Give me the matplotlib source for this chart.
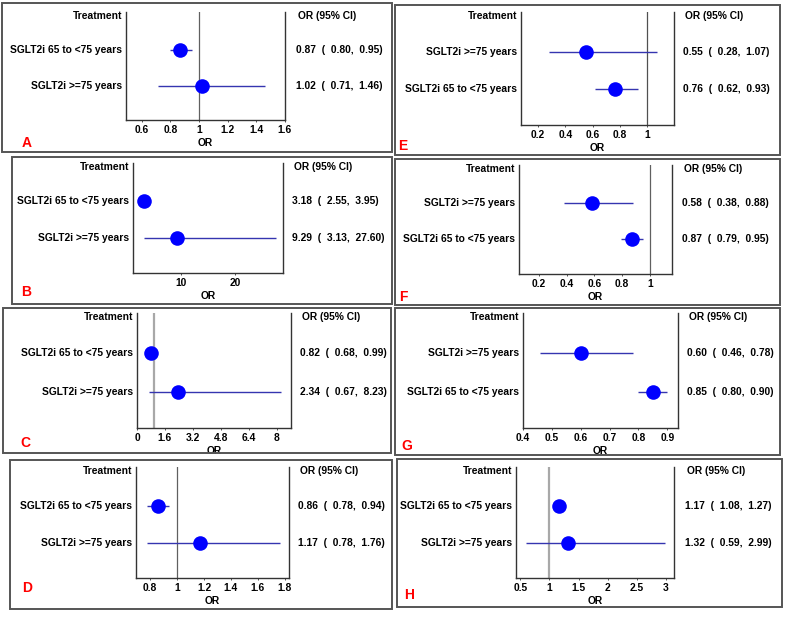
import matplotlib.pyplot as plt
from matplotlib.patches import Rectangle
import matplotlib.transforms as mtransforms

plt.rcParams['font.family'] = ['Liberation Sans', 'DejaVu Sans']

W, H = 788, 617

# data per panel: row labels (top to bottom), OR, lower, upper
ROW_65 = "SGLT2i 65 to <75 years"
ROW_75 = "SGLT2i >=75 years"

labels_A = [ROW_65, ROW_75]
or_A = [0.87, 1.02]
lo_A = [0.80, 0.71]
hi_A = [0.95, 1.46]
ticks_A = [0.6, 0.8, 1, 1.2, 1.4, 1.6]

labels_B = [ROW_65, ROW_75]
or_B = [3.18, 9.29]
lo_B = [2.55, 3.13]
hi_B = [3.95, 27.60]
ticks_B = [10, 20]

labels_C = [ROW_65, ROW_75]
or_C = [0.82, 2.34]
lo_C = [0.68, 0.67]
hi_C = [0.99, 8.23]
ticks_C = [0, 1.6, 3.2, 4.8, 6.4, 8]

labels_D = [ROW_65, ROW_75]
or_D = [0.86, 1.17]
lo_D = [0.78, 0.78]
hi_D = [0.94, 1.76]
ticks_D = [0.8, 1, 1.2, 1.4, 1.6, 1.8]

labels_E = [ROW_75, ROW_65]
or_E = [0.55, 0.76]
lo_E = [0.28, 0.62]
hi_E = [1.07, 0.93]
ticks_E = [0.2, 0.4, 0.6, 0.8, 1]

labels_F = [ROW_75, ROW_65]
or_F = [0.58, 0.87]
lo_F = [0.38, 0.79]
hi_F = [0.88, 0.95]
ticks_F = [0.2, 0.4, 0.6, 0.8, 1]

labels_G = [ROW_75, ROW_65]
or_G = [0.60, 0.85]
lo_G = [0.46, 0.80]
hi_G = [0.78, 0.90]
ticks_G = [0.4, 0.5, 0.6, 0.7, 0.8, 0.9]

labels_H = [ROW_65, ROW_75]
or_H = [1.17, 1.32]
lo_H = [1.08, 0.59]
hi_H = [1.27, 2.99]
ticks_H = [0.5, 1, 1.5, 2, 2.5, 3]

# layout in pixels: box (x0, y0, x1, y1), axes (left, right, top, bottom), xlim,
# x of the right-hand text column, letter position, reference line colour
panels = [
    dict(name="A", labels=labels_A, est=or_A, lo=lo_A, hi=hi_A, ticks=ticks_A,
         box=(2, 3, 392, 152), ax=(126, 285, 12, 120), xlim=(0.49, 1.6),
         txt=296, letter=(22, 143), ref='#606060', rlw=0.9),
    dict(name="B", labels=labels_B, est=or_B, lo=lo_B, hi=hi_B, ticks=ticks_B,
         box=(12, 157, 392, 304), ax=(133, 283, 163, 273), xlim=(1.17, 28.8),
         txt=292, letter=(21, 292), ref=None, rlw=0.9),
    dict(name="C", labels=labels_C, est=or_C, lo=lo_C, hi=hi_C, ticks=ticks_C,
         box=(3, 308, 391, 453), ax=(137, 291, 313, 428), xlim=(0, 8.82),
         txt=300, letter=(20, 443), ref='#a8a8a8', rlw=1.6),
    dict(name="D", labels=labels_D, est=or_D, lo=lo_D, hi=hi_D, ticks=ticks_D,
         box=(10, 460, 392, 609), ax=(136, 289, 467, 578), xlim=(0.696, 1.83),
         txt=298, letter=(22, 588), ref='#606060', rlw=0.9),
    dict(name="E", labels=labels_E, est=or_E, lo=lo_E, hi=hi_E, ticks=ticks_E,
         box=(395, 5, 780, 155), ax=(521, 674, 12, 125), xlim=(0.076, 1.195),
         txt=683, letter=(398, 146), ref='#505050', rlw=0.9),
    dict(name="F", labels=labels_F, est=or_F, lo=lo_F, hi=hi_F, ticks=ticks_F,
         box=(395, 159, 780, 305), ax=(519, 672, 165, 274), xlim=(0.055, 1.16),
         txt=682, letter=(399, 297), ref='#606060', rlw=0.9),
    dict(name="G", labels=labels_G, est=or_G, lo=lo_G, hi=hi_G, ticks=ticks_G,
         box=(395, 308, 780, 455), ax=(523, 678, 313, 428), xlim=(0.4, 0.937),
         txt=687, letter=(401, 446), ref=None, rlw=0.9),
    dict(name="H", labels=labels_H, est=or_H, lo=lo_H, hi=hi_H, ticks=ticks_H,
         box=(397, 459, 782, 607), ax=(516, 674, 467, 578), xlim=(0.426, 3.137),
         txt=685, letter=(404, 595), ref='#a8a8a8', rlw=1.6),
]

FS = 7.4

fig = plt.figure(figsize=(W / 100, H / 100), dpi=100)
fig.patch.set_facecolor('white')


def fx(px):
    return px / W


def fy(py):
    return 1 - py / H


for p in panels:
    x0, y0, x1, y1 = p["box"]
    fig.patches.append(Rectangle((fx(x0), fy(y1)), fx(x1 - x0), (y1 - y0) / H,
                                 transform=fig.transFigure, fill=False,
                                 edgecolor='#555555', linewidth=1.4))

    l, r, t, b = p["ax"]
    ax = fig.add_axes([fx(l), fy(b), fx(r - l), (b - t) / H])
    ax.set_xlim(*p["xlim"])
    ax.set_ylim(2.95, -0.05)
    ax.spines['top'].set_visible(False)
    for s in ['left', 'right', 'bottom']:
        ax.spines[s].set_color('#333333')
        ax.spines[s].set_linewidth(1.0)
    ax.set_yticks([])
    ax.set_xticks(p["ticks"])
    ax.set_xticklabels([f"{v:g}" for v in p["ticks"]], fontsize=FS, fontweight='bold')
    ax.tick_params(axis='x', length=1.5, width=0.6, pad=2, colors='#333333',
                   labelcolor='black')
    ax.set_xlabel("OR", fontsize=FS, fontweight='bold', labelpad=2)

    if p["ref"] is not None:
        ax.axvline(1, color=p["ref"], linewidth=p["rlw"], zorder=1)

    rows = [1, 2]
    ax.hlines(rows, p["lo"], p["hi"], color='#3535b0', linewidth=1.0, zorder=2)
    ax.plot(p["est"], rows, 'o', color='#0000ff', markersize=10.5,
            markeredgewidth=0, zorder=3, clip_on=False)

    trans = mtransforms.blended_transform_factory(fig.transFigure, ax.transData)
    ax.text(fx(l - 4), 0.05, "Treatment", transform=trans, ha='right', va='center',
            fontsize=FS, fontweight='bold')
    ax.text(fx(p["txt"] + 2), 0.05, "OR (95% CI)", transform=trans, ha='left',
            va='center', fontsize=FS, fontweight='bold')
    for yy, lab, e, lo, hi in zip(rows, p["labels"], p["est"], p["lo"], p["hi"]):
        ax.text(fx(l - 4), yy, lab, transform=trans, ha='right', va='center',
                fontsize=FS, fontweight='bold')
        ax.text(fx(p["txt"]), yy, f"{e:.2f}  (  {lo:.2f},  {hi:.2f})",
                transform=trans, ha='left', va='center', fontsize=FS,
                fontweight='bold')

    lx, ly = p["letter"]
    fig.text(fx(lx), fy(ly), p["name"], color='#ff0000', fontsize=10,
             fontweight='bold', ha='left', va='center')

fig.savefig("out.png", dpi=100, facecolor='white')
